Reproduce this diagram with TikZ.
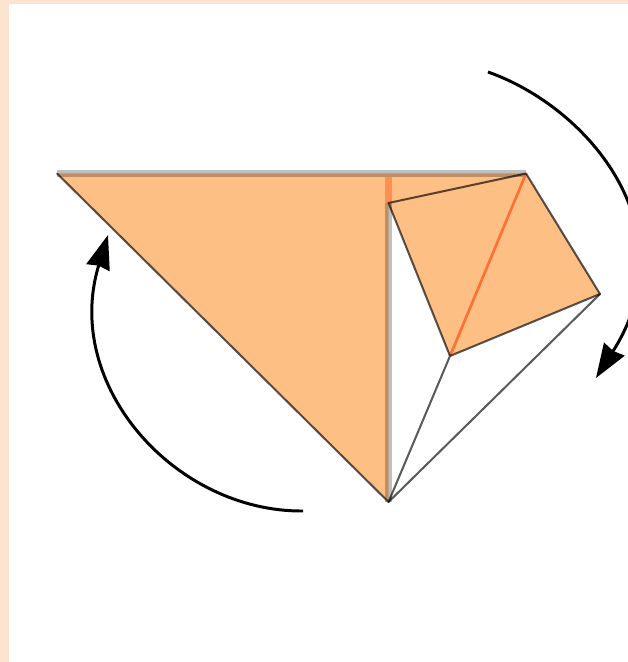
\documentclass[tikz,border=0pt]{standalone}
\usetikzlibrary{arrows.meta}
\definecolor{cadre}{RGB}{254,227,208}
\definecolor{papier}{RGB}{253,191,131}
\definecolor{pli}{RGB}{255,112,50}
\tikzset{
    arete/.style={draw=black, opacity=.65, line width=1.15pt, line cap=round, line join=round},
    bord/.style={draw=black, opacity=.25, line width=3.7pt},
    fleche/.style={line width=1.7pt, -{Stealth[length=.68cm, width=.48cm, inset=.04cm]}},
}
\begin{document}
\begin{tikzpicture}[x=.02cm, y=-.02cm]
    \useasboundingbox (0, 0) rectangle (628, 662);
    \clip (0, 0) rectangle (628, 662);
    % le cadre
    \fill[cadre] (0, 0) rectangle (628, 662);
    \fill[white] (9, 4) rectangle (628, 662);
    % les sommets
    \coordinate (gauche) at (57, 173.5);
    \coordinate (milieu) at (388.5, 173.5);
    \coordinate (coin) at (526, 173.5);
    \coordinate (droite) at (600, 294);
    \coordinate (creux) at (450, 356);
    \coordinate (haut) at (388.5, 203);
    \coordinate (bas) at (388.5, 502);
    % le papier
    \fill[papier] (gauche) -- (coin) -- (droite) -- (creux) -- (haut) -- (bas) -- cycle;
    \draw[bord, line cap=butt] (gauche) -- (coin);
    \draw[bord] (milieu) ++(0, 3.3) -- (bas);
    \fill[papier] (385, 177) rectangle (392, 203);
    \draw[pli, opacity=.6, line width=3.7pt] (388.5, 177) -- (haut);
    \draw[pli, line width=1.5pt] (creux) -- (coin);
    \draw[arete] (gauche) -- (bas) -- (creux) -- (haut) -- (coin) -- (droite) -- (creux);
    \draw[arete] (droite) -- (bas);
    % les fleches
    \draw[fleche] (488, 72) .. controls (590, 108) and (690, 230) .. (596, 378);
    \draw[fleche] (303, 511) .. controls (175, 512) and (62, 385) .. (108, 235);
\end{tikzpicture}
\end{document}
